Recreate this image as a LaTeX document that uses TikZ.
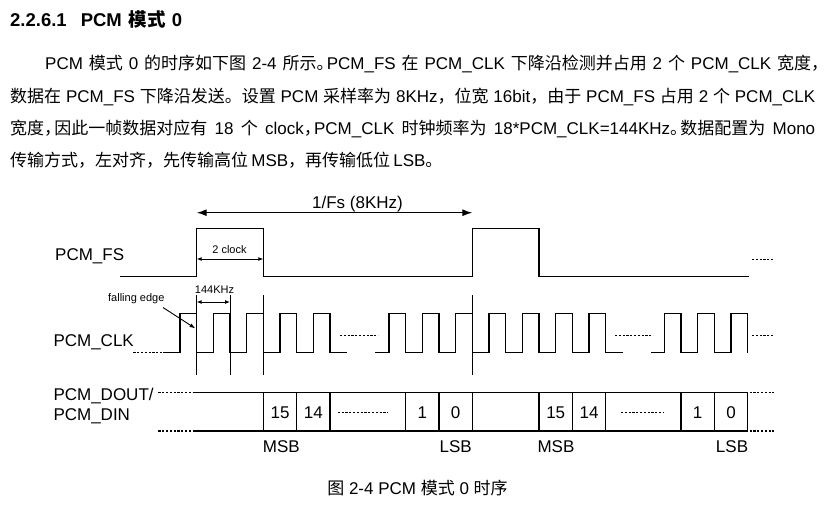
\documentclass[tikz,border=0pt]{standalone}
\usepackage{fontspec}
\setmainfont{Liberation Sans}
\newfontfamily\cjk{Noto Sans CJK SC}
\usetikzlibrary{arrows.meta}
\newcommand\hp[1]{\makebox[0.6em][l]{\cjk #1}}
\begin{document}
\begin{tikzpicture}[x=1pt,y=-1pt,
  sig/.style={line width=1.5pt},
  thinln/.style={line width=0.8pt},
  bus/.style={line width=1.3pt},
  dotseg/.style={line width=1.2pt, dash pattern=on 2.2pt off 1.6pt},
  lbl/.style={inner sep=0pt, font=\fontsize{17}{20}\selectfont},
  smalllbl/.style={inner sep=0pt, font=\fontsize{11}{13}\selectfont},
  bigarrow/.style={{Latex[length=10pt,width=7pt]}-{Latex[length=10pt,width=7pt]}, line width=1.3pt},
  smallarrow/.style={{Latex[length=5pt,width=4pt]}-{Latex[length=5pt,width=4pt]}, line width=0.9pt},
  pointer/.style={-{Latex[length=6pt,width=4pt]}, line width=0.9pt}]
\useasboundingbox (0,0) rectangle (840,507);
\fill[white] (0,0) rectangle (840,507);

% ---------- heading and paragraph ----------
\node[inner sep=0pt, anchor=base west, font=\fontsize{18.5}{22}\selectfont\bfseries] (head) at (10,26.7)
  {2.2.6.1\hspace{14pt}PCM\hspace{7pt}{\cjk\bfseries 模式}\hspace{6pt}0};
\node[lbl, anchor=base west] (p1) at (45,69.6)
  {\makebox[783pt][s]{PCM {\cjk 模式} 0 {\cjk 的时序如下图} 2-4 {\cjk 所示}\hp{。}PCM\_FS {\cjk 在} PCM\_CLK {\cjk 下降沿检测并占用} 2 {\cjk 个} PCM\_CLK {\cjk 宽度，}}};
\node[lbl, anchor=base west] (p2) at (10,102.1)
  {\makebox[805pt][s]{{\cjk 数据在} PCM\_FS {\cjk 下降沿发送。设置} PCM {\cjk 采样率为} 8KHz{\cjk ，位宽} 16bit{\cjk ，由于} PCM\_FS {\cjk 占用} 2 {\cjk 个} PCM\_CLK}};
\node[lbl, anchor=base west] (p3) at (10,134.4)
  {\makebox[805pt][s]{{\cjk 宽度}\hp{，}{\cjk 因此一帧数据对应有} 18 {\cjk 个} clock\hp{，}PCM\_CLK {\cjk 时钟频率为} 18*PCM\_CLK=144KHz\hp{。}{\cjk 数据配置为} Mono}};
\node[lbl, anchor=base west] (p4) at (10,166.7)
  {\makebox[432pt][s]{{\cjk 传输方式，左对齐，先传输高位} MSB{\cjk ，再传输低位} LSB{\cjk 。}}};

% ---------- 1/Fs ----------
\node[lbl, anchor=base] (fslbl) at (357.5,208) {1/Fs (8KHz)};
\coordinate (fsA) at (196.667,212.7);
\coordinate (fsB) at (472.333,212.7);
\draw[bigarrow] (fsA) -- (fsB);

% ---------- PCM_FS ----------
\node[lbl, anchor=base west] (fsname) at (55,260) {PCM\_FS};
\draw[sig] (120,276.7) -- (196.667,276.7) -- (196.667,228.3) -- (263.333,228.3) -- (263.333,276.7)
  -- (472.333,276.7) -- (472.333,228.3) -- (539,228.3) -- (539,276.7) -- (749,276.7);
\draw[dotseg] (752,259.3) -- (774,259.3);
\node[smalllbl, anchor=base] (twoclk) at (229.5,253) {2 clock};
\coordinate (ckA) at (196.667,259);
\coordinate (ckB) at (263.333,259);
\draw[smallarrow] (ckA) -- (ckB);

% ---------- PCM_CLK ----------
\node[lbl, anchor=base west] (clkname) at (53.3,346.3) {PCM\_CLK};
\node[smalllbl, anchor=base] (khz) at (214.5,293.3) {144KHz};
\coordinate (kA) at (196.667,302);
\coordinate (kB) at (230,302);
\draw[smallarrow] (kA) -- (kB);
\node[smalllbl, anchor=base] (fe) at (136.3,301.5) {falling edge};
\coordinate (feA) at (163,307.5);
\coordinate (feB) at (195.5,328.5);
\draw[pointer] (feA) -- (feB);

\foreach \xx in {196.667,230,263.333,472.333}
  \draw[thinln] (\xx,295) -- (\xx,375);

\draw[dotseg] (133.3,352.7) -- (163.3,352.7);
\draw[sig] (163.3,352.7)
  \foreach \r in {180,213.333,246.667,280,313.333}{ -- (\r,352.7) -- (\r,313.3) -- (\r+16.667,313.3) -- (\r+16.667,352.7)}
  -- (347,352.7);
\draw[dotseg] (340,335.5) -- (378,335.5);
\draw[sig] (375,352.7)
  \foreach \r in {389,422.333,455.667,489,522.333,555.667,589}{ -- (\r,352.7) -- (\r,313.3) -- (\r+16.667,313.3) -- (\r+16.667,352.7)}
  -- (623.3,352.7);
\draw[dotseg] (615,335.5) -- (653,335.5);
\draw[sig] (651,352.7)
  \foreach \r in {664.333,697.667,731}{ -- (\r,352.7) -- (\r,313.3) -- (\r+16.667,313.3) -- (\r+16.667,352.7)};
\draw[dotseg] (752,335.5) -- (774,335.5);

% ---------- PCM_DOUT / PCM_DIN ----------
\node[lbl, anchor=base west] (dout) at (53.3,400) {PCM\_DOUT/};
\node[lbl, anchor=base west] (din) at (53.3,420) {PCM\_DIN};
\draw[dotseg] (158.3,392.3) -- (193.3,392.3);
\draw[dotseg] (158.3,431) -- (193.3,431);
\draw[bus] (193.3,392.3) -- (747.667,392.3);
\draw[bus] (193.3,431) -- (747.667,431);
\draw[dotseg] (749.5,392.3) -- (774,392.3);
\draw[dotseg] (749.5,431) -- (774,431);
\foreach \xx in {263.333,296.667,330,405.667,439,472.333,539,572.333,605.667,681,714.333,747.667}
  \draw[bus] (\xx,392.3) -- (\xx,431);
\node[lbl, anchor=base] (b15a) at (280,418) {15};
\node[lbl, anchor=base] (b14a) at (313.3,418) {14};
\draw[dotseg] (337.7,412.5) -- (388.3,412.5);
\node[lbl, anchor=base] (b1a) at (422.3,418) {1};
\node[lbl, anchor=base] (b0a) at (455.7,418) {0};
\node[lbl, anchor=base] (b15b) at (555.7,418) {15};
\node[lbl, anchor=base] (b14b) at (589,418) {14};
\draw[dotseg] (621,412.5) -- (664,412.5);
\node[lbl, anchor=base] (b1b) at (697.7,418) {1};
\node[lbl, anchor=base] (b0b) at (731,418) {0};
\node[lbl, anchor=base west] (msba) at (262.7,452.5) {MSB};
\node[lbl, anchor=base east] (lsba) at (472,452.5) {LSB};
\node[lbl, anchor=base west] (msbb) at (537.3,452.5) {MSB};
\node[lbl, anchor=base east] (lsbb) at (748.3,452.5) {LSB};

% ---------- caption ----------
\node[lbl, anchor=base] (cap) at (417.5,494) {{\cjk 图} 2-4 PCM {\cjk 模式} 0 {\cjk 时序}};
\end{tikzpicture}
\end{document}
